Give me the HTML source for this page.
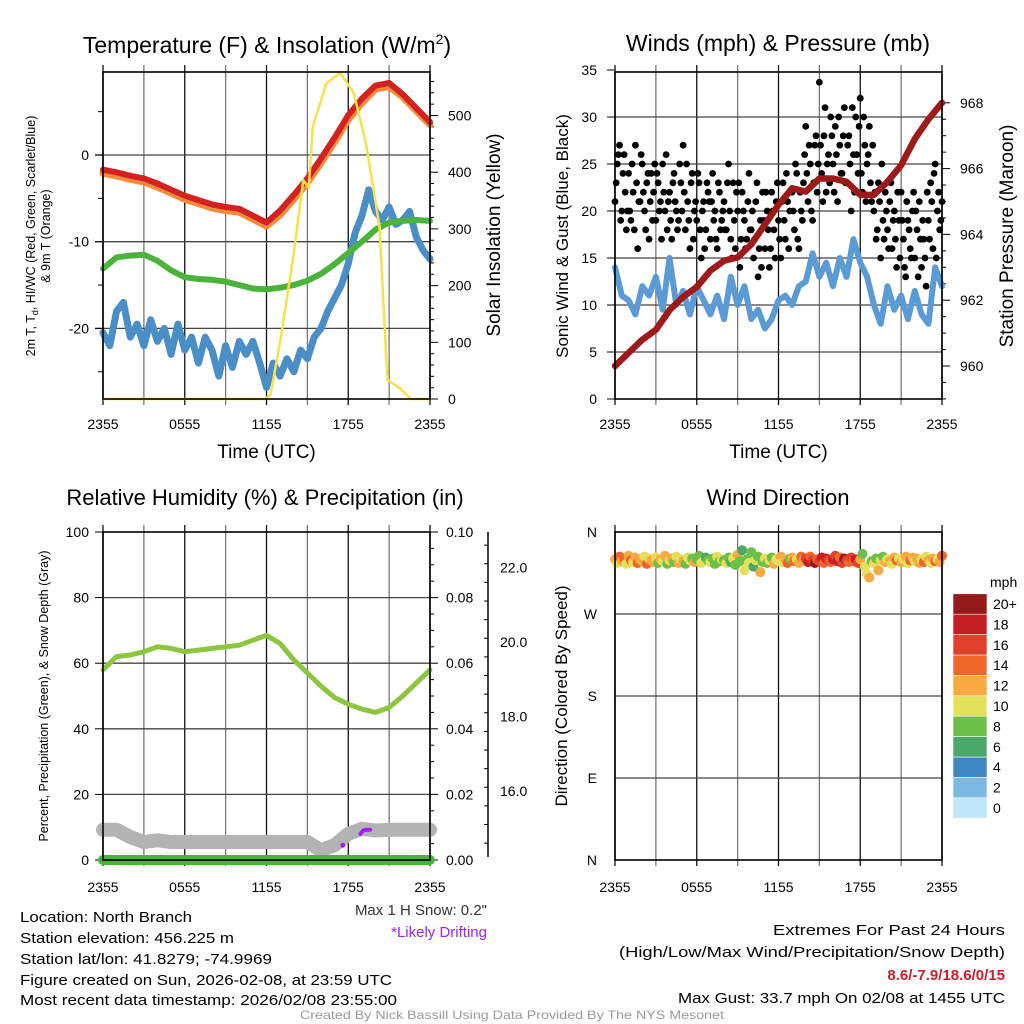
<!DOCTYPE html>
<html><head><meta charset="utf-8"><style>
html,body{margin:0;padding:0;background:#fff;}
svg{display:block;font-family:"Liberation Sans",sans-serif;}
</style></head><body>
<svg id="fig" width="1024" height="1024" viewBox="0 0 1024 1024" xmlns="http://www.w3.org/2000/svg">
<rect x="0" y="0" width="1024" height="1024" fill="#fff"/>
<g id="g1"></g>
<g id="g2"></g>
<g id="g3"></g>
<g id="g4"></g>
<g id="txt">
<text x="20" y="922" font-size="15" textLength="172" lengthAdjust="spacingAndGlyphs">Location: North Branch</text>
<text x="20" y="943" font-size="15" textLength="214" lengthAdjust="spacingAndGlyphs">Station elevation: 456.225 m</text>
<text x="20" y="964" font-size="15" textLength="252" lengthAdjust="spacingAndGlyphs">Station lat/lon: 41.8279; -74.9969</text>
<text x="20" y="985" font-size="15" textLength="372" lengthAdjust="spacingAndGlyphs">Figure created on Sun, 2026-02-08, at 23:59 UTC</text>
<text x="20" y="1005" font-size="15" textLength="377" lengthAdjust="spacingAndGlyphs">Most recent data timestamp: 2026/02/08 23:55:00</text>
<text x="487" y="915" font-size="15" text-anchor="end" fill="#333">Max 1 H Snow: 0.2"</text>
<text x="487" y="937" font-size="15" text-anchor="end" fill="#a020f0">*Likely Drifting</text>
<text x="1005" y="935" font-size="15" text-anchor="end" textLength="232" lengthAdjust="spacingAndGlyphs">Extremes For Past 24 Hours</text>
<text x="1005" y="957" font-size="15" text-anchor="end" textLength="386" lengthAdjust="spacingAndGlyphs">(High/Low/Max Wind/Precipitation/Snow Depth)</text>
<text x="1005" y="980" font-size="15" font-weight="bold" fill="#c8202a" text-anchor="end">8.6/-7.9/18.6/0/15</text>
<text x="1005" y="1003" font-size="15" text-anchor="end" textLength="327" lengthAdjust="spacingAndGlyphs">Max Gust: 33.7 mph On 02/08 at 1455 UTC</text>
<text x="512" y="1019" font-size="12" fill="#999" text-anchor="middle" textLength="424" lengthAdjust="spacingAndGlyphs">Created By Nick Bassill Using Data Provided By The NYS Mesonet</text>
</g>
</svg>
<script>
// ---- data ----
const hourly = [0,1,2,3,4,5,6,7,8,9,10,11,12,13,14,15,16,17,18,19,20,21,22,23,24];
const halfHours = [0,0.5,1,1.5,2,2.5,3,3.5,4,4.5,5,5.5,6,6.5,7,7.5,8,8.5,9,9.5,10,10.5,11,11.5,12,12.5,13,13.5,14,14.5,15,15.5,16,16.5,17,17.5,18,18.5,19,19.5,20,20.5,21,21.5,22,22.5,23,23.5,24];
const xTickLabels = ["2355","0555","1155","1755","2355"];
const xTickHours = [0,6,12,18,24];
const temp2m = [-1.7,-2.0,-2.4,-2.7,-3.3,-4.0,-4.7,-5.2,-5.7,-6.0,-6.2,-7.0,-7.8,-6.4,-4.6,-2.7,-0.4,2.0,4.6,6.5,8.0,8.3,7.0,5.4,3.8];
const temp9m = [-2.1,-2.4,-2.8,-3.1,-3.7,-4.4,-5.1,-5.6,-6.1,-6.4,-6.6,-7.4,-8.2,-6.9,-5.1,-3.2,-0.9,1.5,4.1,6.0,7.6,7.9,6.7,5.1,3.5];
const dewpoint = [-13.1,-11.8,-11.6,-11.5,-12.2,-13.3,-14.1,-14.3,-14.4,-14.6,-15.0,-15.4,-15.5,-15.3,-15.0,-14.5,-13.7,-12.6,-11.3,-10.0,-8.6,-7.8,-7.6,-7.5,-7.6];
const windChill = [-20.5,-22,-18,-17,-21,-19.5,-22,-19,-21.5,-20,-23,-19.5,-22.5,-21,-24,-21,-22.5,-25.5,-22,-24.5,-21.5,-23,-21.5,-24,-26.8,-24,-25.5,-23.5,-25,-22.5,-23.5,-21,-20,-18,-16.5,-15,-12.5,-9,-7,-4,-6.5,-7.5,-6,-8,-7.5,-6.5,-9.5,-11,-12];
const solarHours = [0,11.9,12.3,13,14,14.7,15.1,15.4,16.4,17.4,18.4,19.3,20.3,20.8,20.9,21.8,22.6,24];
const solarVals = [0,0,8,100,257,386,372,480,557,575,540,451,303,69,33,19,0,0];
const tempTicks = [0,-10,-20];
const solarTicks = [0,100,200,300,400,500];
const windSpeed = [14,11,10.5,9,12,11,13,9.5,15,10,11.5,9,12,10.5,9,11,8.5,13,10,12,8.5,9.5,7.5,8.5,10.5,11,10,12,12.5,15.5,13,14.5,12,15,13,17,14.5,13,10,8,12,9.5,11,8.5,11.5,9,8,14,12];
const gusts = [21,25,27,20,26,18, 24,19,22,27,16,21, 25,20,23,17,24,22, 19,23,21,25,20,18, 22,17,24,20,19,23, 27,18,21,16,24,20, 19,23,15,21,18,22, 17,24,20,16,22,19, 21,18,25,17,23,16, 20,14,22,19,17,24, 18,15,21,13,19,22, 16,20,14,22,18,21, 19,15,23,17,21,20, 22,18,24,16,20,23, 29,21,25,19,27,22, 33.7,24,28,22,26,30, 25,29,21,27,24,31, 23,28,20,26,30,24, 32,22,27,25,29,21, 20,17,23,15,19,22, 18,21,16,20,14,19, 22,17,13,19,16,20, 15,18,21,14,17,12, 19,23,16,25,20,18, 21];
const gustsB = [23,26,19,24,22,20, 20,25,18,23,21,26, 22,18,24,21,19,25, 24,20,17,22,26,21, 19,23,21,18,25,20, 22,25,19,23,17,21, 24,18,20,16,23,21, 21,19,17,23,18,20, 18,23,20,15,19,22, 23,17,20,16,21,18, 20,17,23,16,14,19, 22,18,16,20,15,23, 17,21,19,24,16,22, 20,25,17,22,19,26, 24,27,20,23,28,25, 27,21,31,25,23,28, 22,26,30,24,28,23, 27,25,31,22,26,29, 24,30,21,26,23,27, 22,18,21,25,17,20, 16,23,19,17,22,15, 19,14,21,18,15,22, 20,13,17,19,15,22, 17,21,24,15,22,19];
const pressure = [960.0,960.4,960.8,961.1,961.7,962.1,962.4,962.9,963.2,963.3,963.7,964.3,964.9,965.4,965.3,965.7,965.7,965.6,965.2,965.2,965.6,966.1,966.9,967.5,968.0];
const windTicks = [0,5,10,15,20,25,30,35];
const pressTicks = [960,962,964,966,968];
const rh = [58,62,62.5,63.5,65,64.5,63.5,64,64.5,65,65.5,67,68.5,66,61,57,53,49.5,47.5,46,45,46.5,50,54,58];
const snowPct = [9.2,9.2,7,5.5,6,5.5,5.5,5.5,5.5,5.5,5.5,5.5,5.5,5.5,5.5,5.5,3,4.5,8,9.5,9,9.2,9.2,9.2,9.2];
const precip = [0,0,0,0,0,0,0,0,0,0,0,0,0,0,0,0,0,0,0,0,0,0,0,0,0];
const driftHours = [17.6,18.9,19.1,19.3,19.6];
const driftPct = [4.5,8,9,9.2,9.2];
const rhTicks = [0,20,40,60,80,100];
const precipTicks = ["0.00","0.02","0.04","0.06","0.08","0.10"];
const snowTicks = [16.0,18.0,20.0,22.0];
const dirs = [330,326,333,328,331,325, 334,329,327,332,326,330, 328,333,325,331,329,327, 332,326,330,328,334,325, 329,331,327,333,326,330, 328,325,332,329,331,327, 330,334,326,328,332,329, 327,331,325,333,328,330, 329,326,332,327,331,324, 335,328,340,318,330,326, 338,322,329,333,316,327, 331,326,329,332,325,330, 328,333,327,330,326,331, 332,328,330,326,333,329, 331,327,333,329,326,330, 328,332,326,331,329,327, 330,334,328,332,326,331, 329,327,332,328,330,326, 330,336,322,314,310,328, 326,331,318,329,333,327, 330,328,325,332,329,331, 327,330,333,326,329,332, 328,331,326,330,327,333, 329,326,331,328,330,327, 334];
const dirSpeeds = [13,11,15,12,14,10, 12,14,11,13,15,12, 13,11,14,10,12,13, 11,9,12,10,13,8, 10,12,9,11,13,10, 12,9,11,10,8,12, 9,8,10,11,7,9, 10,9,8,11,9,10, 8,10,9,7,11,9, 12,9,7,10,8,11, 9,7,10,8,12,9, 10,8,11,9,12,10, 11,13,10,12,14,9, 12,14,11,13,15,12, 16,18,14,17,20,15, 17,19,15,18,16,14, 18,16,19,15,17,20, 16,14,17,15,18,16, 12,8,11,10,13,9, 11,9,12,10,8,13, 11,13,10,12,15,11, 12,10,13,11,14,12, 11,13,12,10,14,11, 13,11,12,14,10,13, 14];
const cbLabels = ["0","2","4","6","8","10","12","14","16","18","20+"];
const cbColors = ["#bfe6f9","#7cb9e2","#3f86c4","#4aa86a","#6cbf48","#e4e05a","#f8a942","#ef6629","#e1402d","#c51f23","#941a1c"];

// ---- helpers ----
const NS = "http://www.w3.org/2000/svg";
function mk(parent, tag, attrs){ const e=document.createElementNS(NS,tag); for(const k in attrs) e.setAttribute(k,attrs[k]); parent.appendChild(e); return e; }
function pathD(xs, ys, fx, fy){ let d=""; for(let i=0;i<xs.length;i++){ d+=(i?"L":"M")+fx(xs[i]).toFixed(1)+","+fy(ys[i]).toFixed(1);} return d; }
function txt(parent, x, y, s, size, anchor, extra){ const t=mk(parent,"text",Object.assign({x:x,y:y,"font-size":size,"text-anchor":anchor||"middle"},extra||{})); t.textContent=s; return t; }
const gridCol="#444";

function frameAndGrid(g, L, T, R, B, hLines){
  for(let i=0;i<=8;i++){ const x=L+(R-L)*i/8; const ln=mk(g,"line",{x1:x,y1:T-7,x2:x,y2:B+6,stroke:(i%2?"#777":"#111"),"stroke-width":1.3});
    
     }
  hLines.forEach(y=>{ if(y<T+3||y>B-3) return; const ln=mk(g,"line",{x1:L,y1:y,x2:R,y2:y,stroke:gridCol,"stroke-width":1.3});
    
     });
}
function frame(g,L,T,R,B){ const r=mk(g,"rect",{x:L,y:T,width:R-L,height:B-T,fill:"none",stroke:"#000","stroke-width":1.6});
  
   }
function xTicks(g,L,R,B,yLab,yTitle){
  xTickHours.forEach((h,i)=>{ const t=txt(g,L+(R-L)*h/24,yLab,xTickLabels[i],14);
    
     });
  if(yTitle){ const t=txt(g,(L+R)/2,yTitle,"Time (UTC)",19);
    
     }
}

// ================= Panel 1 =================
(function(){
  const g=document.getElementById("g1");
  const L=103,R=430,T=72,B=399;
  const x=h=>L+h*(R-L)/24, yT=t=>155-t*8.67, yS=s=>399-s*0.567;
  frameAndGrid(g,L,T,R,B,tempTicks.map(yT));
  [5,-5,-15,-25].forEach(v=>{ const l=mk(g,"line",{x1:L-5,y1:yT(v),x2:L,y2:yT(v),stroke:"#000"});
    
     });
  tempTicks.forEach(v=>{ const l=mk(g,"line",{x1:L-8,y1:yT(v),x2:L,y2:yT(v),stroke:"#000","stroke-width":1.3});
    
    
    const t=txt(g,L-14,yT(v)+5,String(v),14,"end");
    
     });
  for(let s=0;s<=560;s+=20){ const maj=s%100===0; const l=mk(g,"line",{x1:R,y1:yS(s),x2:R+(maj?8:4),y2:yS(s),stroke:"#000"});
    
     }
  solarTicks.forEach(v=>{ const t=txt(g,R+18,yS(v)+5,String(v),14,"start");
    
     });
  const p1=mk(g,"path",{d:pathD(halfHours,windChill,x,yT),fill:"none",stroke:"#4a8ec8","stroke-width":7,"stroke-linejoin":"round","stroke-linecap":"round"});
  
  
  const p2=mk(g,"path",{d:pathD(hourly,dewpoint,x,yT),fill:"none",stroke:"#4bb33c","stroke-width":6,"stroke-linejoin":"round","stroke-linecap":"round"});
  
  
  const p3=mk(g,"path",{d:pathD(hourly,temp9m,x,yT),fill:"none",stroke:"#f58b3a","stroke-width":7,"stroke-linejoin":"round","stroke-linecap":"round"});
  
  
  const p4=mk(g,"path",{d:pathD(hourly,temp2m,x,yT),fill:"none",stroke:"#d42222","stroke-width":6,"stroke-linejoin":"round","stroke-linecap":"round"});
  
  
  const p5=mk(g,"path",{d:pathD(solarHours,solarVals,x,yS),fill:"none",stroke:"#f9e04b","stroke-width":2.5,"stroke-linejoin":"round"});
  
  
  frame(g,L,T,R,B);
  xTicks(g,L,R,B,429,458);
  const ti=mk(g,"text",{x:267,y:53,"font-size":23,"text-anchor":"middle"});
  ti.innerHTML='Temperature (F) &amp; Insolation (W/m<tspan dy="-9" font-size="14">2</tspan><tspan dy="9">)</tspan>';
  
  
  const yl=mk(g,"text",{transform:"translate(35,236) rotate(-90)","font-size":12.5,"text-anchor":"middle"});
  yl.innerHTML='2m T, T<tspan dy="3" font-size="9">d</tspan><tspan dy="-3">, HI/WC (Red, Green, Scarlet/Blue)</tspan>';
  
  
  const yl2=txt(g,0,0,"& 9m T (Orange)",12.5,"middle",{transform:"translate(50,236) rotate(-90)"});
  
  
  const yr=txt(g,0,0,"Solar Insolation (Yellow)",19,"middle",{transform:"translate(500,235) rotate(-90)"});
  
  
})();

// ================= Panel 2 =================
(function(){
  const g=document.getElementById("g2");
  const L=615,R=942,T=72,B=399;
  const x=h=>L+h*(R-L)/24, yW=w=>399-w*9.4, yP=p=>366-(p-960)*32.9;
  frameAndGrid(g,L,T,R,B,windTicks.map(yW));
  windTicks.forEach(v=>{ const t=txt(g,L-18,yW(v)+5,String(v),14,"end");
    
    
    const l=mk(g,"line",{x1:L-8,y1:yW(v),x2:L,y2:yW(v),stroke:"#000"});
    
     });
  for(let p=959;p<=968.4;p+=0.5){ const maj=Math.abs(p%2)<0.01; const l=mk(g,"line",{x1:R,y1:yP(p),x2:R+(maj?8:4),y2:yP(p),stroke:"#000"});
    
     }
  pressTicks.forEach(v=>{ const t=txt(g,R+18,yP(v)+5,String(v),14,"start");
    
     });
  const pw=mk(g,"path",{d:pathD(halfHours,windSpeed,x,yW),fill:"none",stroke:"#5a9bd5","stroke-width":6,"stroke-linejoin":"round","stroke-linecap":"round"});
  
  
  gusts.forEach((v,i)=>{ const c=mk(g,"circle",{cx:x(i/6),cy:yW(v),r:3.4,fill:"#000"});
    
     });
  gustsB.forEach((v,i)=>{ const c=mk(g,"circle",{cx:x(i/6+1/12),cy:yW(v),r:3.4,fill:"#000"});
    
     });
  const pp=mk(g,"path",{d:pathD(hourly,pressure,x,yP),fill:"none",stroke:"#9e1a1a","stroke-width":6.5,"stroke-linejoin":"round","stroke-linecap":"round"});
  
  
  frame(g,L,T,R,B);
  xTicks(g,L,R,B,429,458);
  const ti=txt(g,778,51,"Winds (mph) & Pressure (mb)",23);
  
  
  const yl=txt(g,0,0,"Sonic Wind & Gust (Blue, Black)",17,"middle",{transform:"translate(568,236) rotate(-90)"});
  
  
  const yr=txt(g,0,0,"Station Pressure (Maroon)",19,"middle",{transform:"translate(1013,236) rotate(-90)"});
  
  
})();

// ================= Panel 3 =================
(function(){
  const g=document.getElementById("g3");
  const L=103,R=430,T=532,B=860;
  const x=h=>L+h*(R-L)/24, yR=r=>860-r*3.28, ySn=s=>791-(s-16)*37.25;
  frameAndGrid(g,L,T,R,B,rhTicks.map(yR));
  rhTicks.forEach(v=>{ const t=txt(g,L-14,yR(v)+5,String(v),14,"end");
    
    
    const l=mk(g,"line",{x1:L-8,y1:yR(v),x2:L,y2:yR(v),stroke:"#000"});
    
     });
  for(let r=0;r<=100;r+=5){ const maj=r%20===0; const l=mk(g,"line",{x1:R,y1:yR(r),x2:R+(maj?8:4),y2:yR(r),stroke:"#000"});
    
     }
  precipTicks.forEach((s,i)=>{ const t=txt(g,R+16,yR(i*20)+5,s,14,"start");
    
     });
  const ax=mk(g,"line",{x1:488,y1:T,x2:488,y2:B-3,stroke:"#000","stroke-width":1.5});
  
  
  for(let s=14.6;s<=23.2;s+=0.5){ const maj=Math.abs(s-Math.round(s))<0.01&&Math.round(s)%2===0; const y=ySn(s); if(y<T||y>B-3) continue;
    const l=mk(g,"line",{x1:488-(maj?8:4),y1:y,x2:488,y2:y,stroke:"#000"});
    
     }
  snowTicks.forEach(v=>{ const t=txt(g,500,ySn(v)+5,v.toFixed(1),14,"start");
    
     });
  const ps=mk(g,"path",{d:pathD(hourly,snowPct,x,yR),fill:"none",stroke:"#b3b3b3","stroke-width":14,"stroke-linejoin":"round","stroke-linecap":"round"});
  
  
  const pr=mk(g,"path",{d:pathD(hourly,precip,x,yR),fill:"none",stroke:"#4bb33c","stroke-width":10,"stroke-linecap":"round"});
  
  
  const pd=mk(g,"path",{d:pathD(driftHours.slice(1),driftPct.slice(1),x,yR),fill:"none",stroke:"#a020f0","stroke-width":4,"stroke-linecap":"round"});
  
  
  const dd=mk(g,"circle",{cx:x(driftHours[0]),cy:yR(driftPct[0]),r:2.5,fill:"#a020f0"});
  
  
  const ph=mk(g,"path",{d:pathD(hourly,rh,x,yR),fill:"none",stroke:"#8cc63f","stroke-width":5,"stroke-linejoin":"round","stroke-linecap":"round"});
  
  
  frame(g,L,T,R,B);
  xTicks(g,L,R,B,892,null);
  const ti=txt(g,265,505,"Relative Humidity (%) & Precipitation (in)",22);
  
  
  const yl=txt(g,0,0,"Percent, Precipitation (Green), & Snow Depth (Gray)",12.5,"middle",{transform:"translate(48,696) rotate(-90)"});
  
  
})();

// ================= Panel 4 =================
(function(){
  const g=document.getElementById("g4");
  const L=615,R=942,T=532,B=860;
  const x=h=>L+h*(R-L)/24, yD=d=>860-d*0.911;
  const dirLabels=["N","E","S","W","N"], dirVals=[0,90,180,270,360];
  frameAndGrid(g,L,T,R,B,dirVals.map(yD));
  dirVals.forEach((v,i)=>{ const t=txt(g,L-18,yD(v)+5,dirLabels[i],14,"end");
    
     });
  function colorFor(s){ let k=Math.min(10,Math.max(0,Math.floor(s/2))); return cbColors[k]; }
  dirs.forEach((d,i)=>{ const c=mk(g,"circle",{cx:x(i/6),cy:yD(d),r:5,fill:colorFor(dirSpeeds[i])});
    
     });
  frame(g,L,T,R,B);
  xTicks(g,L,R,B,892,null);
  const ti=txt(g,778,505,"Wind Direction",22);
  
  
  const yl=txt(g,0,0,"Direction (Colored By Speed)",17,"middle",{transform:"translate(567,696) rotate(-90)"});
  
  
  const u=txt(g,990,587,"mph",14,"start");
  
  
  const bh=20.4;
  cbColors.forEach((c,i)=>{ const y=808-i*bh-bh/2;
    const r=mk(g,"rect",{x:953,y:y,width:34,height:bh,fill:c,stroke:"#fff","stroke-width":0.6});
    
    
    const t=txt(g,993,y+bh/2+5,cbLabels[i],14,"start");
    
     });
})();
</script>
</body></html>
